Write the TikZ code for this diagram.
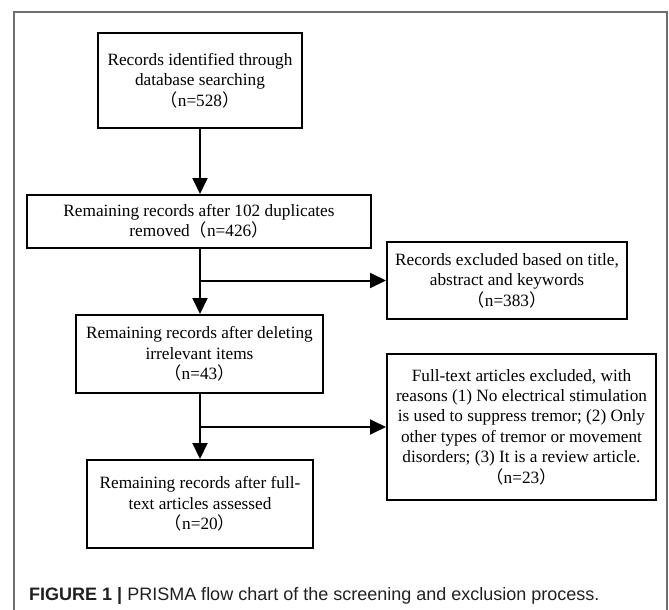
\documentclass[tikz,border=0pt]{standalone}
\usepackage{fontspec}
\setmainfont{Liberation Serif}
\setsansfont{Liberation Sans}
\newfontfamily\cjkfont{Noto Sans CJK SC}
\usetikzlibrary{arrows.meta}
\newcommand{\lpar}{{\cjkfont （}}
\newcommand{\rpar}{{\cjkfont ）}}
\definecolor{captxt}{HTML}{231F20}
\definecolor{framegray}{HTML}{6E6E6E}
\begin{document}
\begin{tikzpicture}[x=1pt,y=-1pt,
  flowbox/.style={draw=black, line width=2pt, align=center, inner sep=0pt,
    font=\fontsize{17.25}{20.4}\selectfont},
  arr/.style={line width=2pt, -{Triangle[length=16pt,width=15pt]}},
  framestyle/.style={draw=framegray, line width=1.3pt},
  captionstyle/.style={anchor=base west, inner sep=0pt, text=captxt,
    font=\fontsize{18}{18}\sffamily}]
\useasboundingbox (0,0) rectangle (669,610);
% outer frame (open at bottom)
\draw[framestyle] (14,610) -- (14,12) -- (667,12) -- (667,610);
\coordinate (sp) at (200,0);
% boxes
\node[flowbox, minimum width=204pt, minimum height=95pt] (b1) at (200,80.5)
  {Records identified through\\database searching\\\lpar n=528\rpar};
\node[flowbox, minimum width=344pt, minimum height=53pt] (b2) at (199,221.5)
  {Remaining records after 102 duplicates\\removed\lpar n=426\rpar};
\node[flowbox, minimum width=240pt, minimum height=77pt] (b3) at (507,280.5)
  {Records excluded based on title,\\abstract and keywords\\\lpar n=383\rpar};
\node[flowbox, minimum width=247pt, minimum height=78pt] (b4) at (199.5,354)
  {Remaining records after deleting\\irrelevant items\\\lpar n=43\rpar};
\node[flowbox, minimum width=269pt, minimum height=146pt] (b5) at (521.5,427)
  {Full-text articles excluded, with\\reasons (1) No electrical stimulation\\is used to suppress tremor; (2) Only\\other types of tremor or movement\\disorders; (3) It is a review article.\\\lpar n=23\rpar};
\node[flowbox, minimum width=226pt, minimum height=88pt] (b6) at (200,504)
  {Remaining records after full-\\text articles assessed\\\lpar n=20\rpar};
% connectors
\draw[arr] (b1.south -| sp) -- (b2.north -| sp);
\draw[arr] (b2.south -| sp) -- (b4.north -| sp);
\draw[arr] (b4.south -| sp) -- (b6.north -| sp);
\draw[arr] (sp |- b3.west) -- (b3.west);
\draw[arr] (sp |- b5.west) -- (b5.west);
% caption
\node[captionstyle] (cap) at (29,600)
  {\textbf{FIGURE 1 |} PRISMA flow chart of the screening and exclusion process.};
\end{tikzpicture}
\end{document}
